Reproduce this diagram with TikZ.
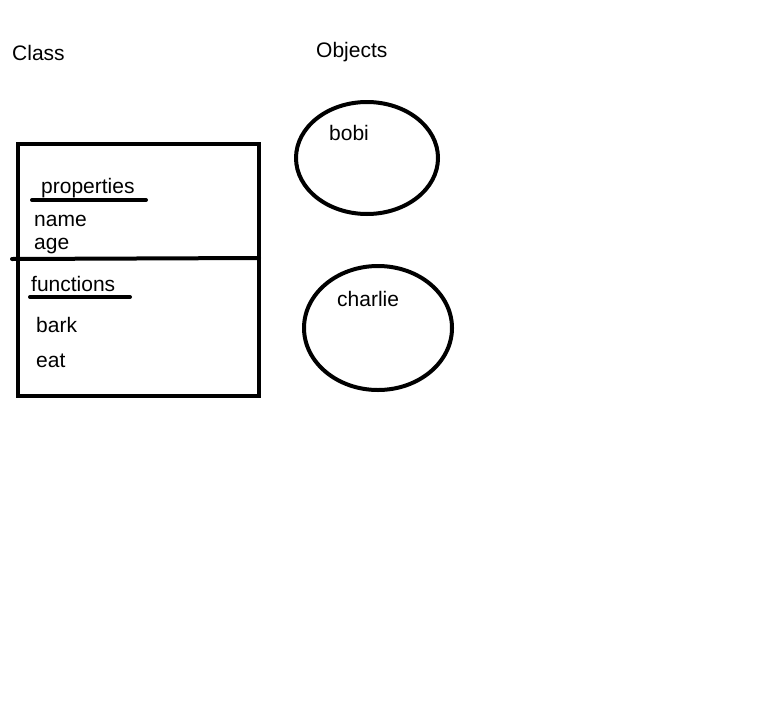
\documentclass[tikz,border=0pt]{standalone}
\usepackage{fontspec}
\setmainfont{Liberation Sans}
\begin{document}
\begin{tikzpicture}[x=1pt,y=-1pt,
  lbl/.style={anchor=base west,inner sep=0pt,font=\fontsize{21}{24}\selectfont},
  thick line/.style={line width=4pt,line cap=round},
  obj/.style={draw,line width=4pt}]
\useasboundingbox (0,0) rectangle (778,720);
\node[lbl] (class) at (12,60) {Class};
\node[lbl] (objects) at (316,57) {Objects};
\draw[line width=4pt] (18,144) rectangle (259,396);
\draw[thick line] (12,259) -- (259,258);
\node[lbl] (prop) at (41,193) {properties};
\draw[thick line] (32,200) -- (146,200);
\node[lbl] (name) at (34,226) {name};
\node[lbl] (age) at (34,249) {age};
\node[lbl] (func) at (31,291) {functions};
\draw[thick line] (30,297) -- (130,297);
\node[lbl] (bark) at (36,332) {bark};
\node[lbl] (eat) at (36,367) {eat};
\draw[obj] (367,158) ellipse [x radius=71, y radius=56];
\node[lbl] (bobi) at (329,140) {bobi};
\draw[obj] (378,328) ellipse [x radius=74, y radius=62];
\node[lbl] (charlie) at (337,306) {charlie};
\end{tikzpicture}
\end{document}
